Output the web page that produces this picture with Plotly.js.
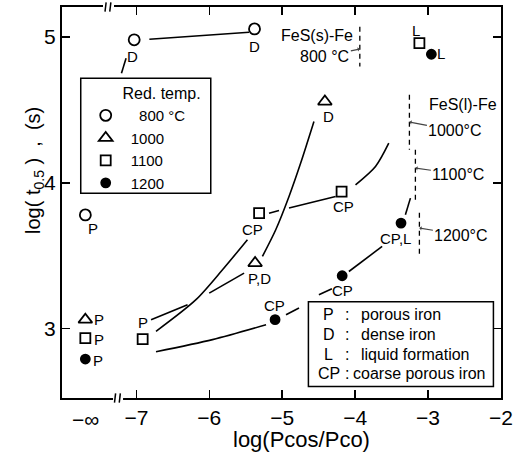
<!DOCTYPE html>
<html><head><meta charset="utf-8">
<script src="https://cdn.plot.ly/plotly-3.0.1.min.js"></script>
<style>html,body{margin:0;padding:0;background:#fff}</style>
</head><body><div id="chart" style="width:525px;height:452px"></div>
<script>
// plotting position used for log(Pcos/Pco) = -infinity on the broken axis
const NEG_INF_X = -7.7;

// ---- measured points (reduction temperature series) ----
const tempNames = ['\u00a0\u00a0800 \u00b0C', '1000', '1100', '1200'];
const x800  = [-Infinity, -7.03, -5.38];
const y800  = [3.78, 4.98, 5.055];
const lab800 = ['P', 'D', 'D'];
const x1000 = [-Infinity, -5.372, -4.415];
const y1000 = [3.062, 3.45, 4.557];
const lab1000 = ['P', 'P,D', 'D'];
const x1100 = [-Infinity, -6.914, -5.317, -4.186, -3.119];
const y1100 = [2.936, 2.929, 3.792, 3.94, 4.957];
const lab1100 = ['P', 'P', 'CP', 'CP', 'L'];
const x1200 = [-Infinity, -5.098, -4.178, -3.371, -2.955];
const y1200 = [2.792, 3.062, 3.363, 3.724, 4.881];
const lab1200 = ['P', 'CP', 'CP', 'CP,L', 'L'];

// ---- hand-drawn trend curves (null = pen lifted) ----
const c800X  = [-6.822, -5.454, null, -7.205, -7.141];
const c800Y  = [4.984, 5.032, null, 4.751, 4.854];
const c1000aX = [-6.799, -6.298, null, -6.001, -5.523];
const c1000aY = [3.062, 3.164, null, 3.244, 3.381];
const c1000bX = [-5.272, -5.089, -4.907, -4.747, -4.565];
const c1000bY = [3.495, 3.678, 3.906, 4.135, 4.42];
const c1100aX = [-6.731, -6.183, -5.819, -5.477];
const c1100aY = [2.982, 3.199, 3.404, 3.61];
const c1100bX = [-5.181, -5.044, null, -4.907, -4.268];
const c1100bY = [3.792, 3.81, null, 3.827, 3.906];
const c1100cX = [-3.995, -3.721, -3.539];
const c1100cY = [3.986, 4.112, 4.272];
const c1200X = [-6.731, -5.956, -5.222, null, -4.948, -4.77, null, -4.497, -4.319, null, -4.086, -3.63, null, -3.311, -3.242];
const c1200Y = [2.842, 2.925, 3.027, null, 3.096, 3.142, null, 3.233, 3.274, null, 3.392, 3.564, null, 3.781, 3.895];

// ---- FeS-Fe equilibrium boundaries ----
const boundTemps = ['800 \u00b0C', '1000\u00b0C', '1100\u00b0C', '1200\u00b0C'];
const boundX  = [-3.936, -3.256, -3.174, -3.119];
const boundY0 = [5.069, 4.603, 4.226, 3.795];
const boundY1 = [4.797, 4.226, 3.884, 3.486];
const boundArrowY = [4.917, 4.417, 4.101, 3.69];

// ---- tick labels ----
const xTicks = [-7, -6, -5, -4, -3, -2];
const yTicks = [3, 4, 5];

// ---- morphology key ----
const keyCodes = ['P', 'D', 'L', 'CP'];
const keyTexts = ['porous iron', 'dense iron', 'liquid formation', 'coarse porous iron'];

const FONT = 'Liberation Sans, Arial, sans-serif';
const px = v => (isFinite(v) ? v : NEG_INF_X);

const traces = [];
function curve(xs, ys) {
  traces.push({x: xs, y: ys, mode: 'lines', showlegend: false, hoverinfo: 'skip',
    connectgaps: false, line: {color: '#000', width: 1.6, shape: 'spline', smoothing: 0.8}});
}
[[c800X, c800Y], [c1000aX, c1000aY], [c1000bX, c1000bY], [c1100aX, c1100aY],
 [c1100bX, c1100bY], [c1100cX, c1100cY], [c1200X, c1200Y]].forEach(c => curve(c[0], c[1]));

// dashed boundaries
const bx = [], by = [];
boundX.forEach((v, i) => { bx.push(v, v, null); by.push(boundY0[i], boundY1[i], null); });
traces.push({x: bx, y: by, mode: 'lines', showlegend: false, hoverinfo: 'skip',
  line: {color: '#000', width: 1.3, dash: '5px,4px'}});

const series = [
  {x: x800, y: y800, lab: lab800, sym: 'circle', size: 11, fill: '#fff'},
  {x: x1000, y: y1000, lab: lab1000, sym: 'triangle-up', size: 12, fill: '#fff'},
  {x: x1100, y: y1100, lab: lab1100, sym: 'square', size: 10, fill: '#fff'},
  {x: x1200, y: y1200, lab: lab1200, sym: 'circle', size: 9, fill: '#000'}
];
// label offsets (pixels) relative to each point
const labelShift = [
  [[8, -14], [-2, -17], [0, -18]],
  [[14, 0], [4, -15], [4, -15]],
  [[14, -1], [0, 17], [-7, -16], [2, -15], [-3, 13]],
  [[13, -1], [-1, 14], [0, -15], [-6, -15], [10, 1]]
];
series.forEach((s, i) => {
  const nm = i === 0 ? tempNames[i] + '\u00a0\u00a0\u00a0' : tempNames[i];
  traces.push({x: s.x.map(px), y: s.y, mode: 'markers', name: nm, hoverinfo: 'skip',
    marker: {symbol: s.sym, size: s.size, color: s.fill, line: {color: '#000', width: 1.8}}});
});

const ann = [];
series.forEach((s, i) => {
  s.lab.forEach((t, j) => {
    ann.push({x: px(s.x[j]), y: s.y[j], text: t, showarrow: false,
      xshift: labelShift[i][j][0], yshift: labelShift[i][j][1],
      font: {family: FONT, size: 15, color: '#000'}});
  });
});

// boundary labels
ann.push({x: -4.001, y: 5.010, text: 'FeS(s)-Fe', xanchor: 'right', showarrow: false, font: {family: FONT, size: 16}});
ann.push({x: -2.526, y: 4.540, text: 'FeS(l)-Fe', showarrow: false, font: {family: FONT, size: 16}});
const arrowOff = [[-35, 7], [46, 9], [43, 6], [42, 7]];
boundTemps.forEach((t, i) => {
  ann.push({x: boundX[i], y: boundArrowY[i], text: t, showarrow: true, arrowhead: 1, arrowsize: 0.6,
    arrowwidth: 1.2, standoff: 0, ax: arrowOff[i][0], ay: arrowOff[i][1],
    font: {family: FONT, size: 16}});
});

// morphology key
const keyY = [3.094, 2.957, 2.825, 2.694];
keyCodes.forEach((k, i) => {
  ann.push({x: -4.364, y: keyY[i], text: k, showarrow: false, font: {family: FONT, size: 16}});
  ann.push({x: -4.115, y: keyY[i], text: ':', showarrow: false, font: {family: FONT, size: 16}});
  ann.push({x: i === 3 ? -4.056 : -3.946, y: keyY[i], text: keyTexts[i], xanchor: 'left',
    showarrow: false, font: {family: FONT, size: 16}});
});

// axis texts
ann.push({xref: 'x', yref: 'paper', x: NEG_INF_X, y: 0, yanchor: 'top', yshift: -8,
  text: '\u2212\u221e', showarrow: false, font: {family: FONT, size: 21}});
ann.push({xref: 'paper', yref: 'paper', x: 0.5456, y: -0.105, xanchor: 'center', yanchor: 'middle',
  text: 'log(Pcos/Pco)', showarrow: false, font: {family: FONT, size: 22}});
ann.push({xref: 'paper', yref: 'paper', x: -0.0615, y: 0.5806, xanchor: 'center', yanchor: 'middle',
  textangle: -90, text: 'log( t<sub>0.5</sub> )  ,  (s)', showarrow: false, font: {family: FONT, size: 20}});

const shapes = [
  // temperature key frame
  {type: 'rect', xref: 'x', yref: 'y', x0: -7.763, x1: -5.98, y0: 3.928, y1: 4.716,
    line: {color: '#000', width: 1.5}, fillcolor: '#fff', layer: 'above'},
  // morphology key frame
  {type: 'rect', xref: 'x', yref: 'y', x0: -4.641, x1: -2.104, y0: 2.603, y1: 3.185,
    line: {color: '#000', width: 1.5}, fillcolor: '#fff', layer: 'above'},
  // axis break marks
  {type: 'rect', xref: 'x', yref: 'paper', x0: -7.32, x1: -7.183, y0: -0.012, y1: 0.012,
    line: {width: 0}, fillcolor: '#fff', layer: 'above'},
  {type: 'line', xref: 'x', yref: 'paper', x0: -7.30, x1: -7.285, y0: -0.012, y1: 0.012, line: {color: '#000', width: 1.5}, layer: 'above'},
  {type: 'line', xref: 'x', yref: 'paper', x0: -7.235, x1: -7.22, y0: -0.012, y1: 0.012, line: {color: '#000', width: 1.5}, layer: 'above'},
  {type: 'rect', xref: 'x', yref: 'paper', x0: -7.458, x1: -7.307, y0: 0.988, y1: 1.012,
    line: {width: 0}, fillcolor: '#fff', layer: 'above'},
  {type: 'line', xref: 'x', yref: 'paper', x0: -7.43, x1: -7.415, y0: 0.988, y1: 1.012, line: {color: '#000', width: 1.5}, layer: 'above'},
  {type: 'line', xref: 'x', yref: 'paper', x0: -7.365, x1: -7.35, y0: 0.988, y1: 1.012, line: {color: '#000', width: 1.5}, layer: 'above'}
];

const axisCommon = {ticks: 'inside', ticklen: 8, tickwidth: 1.5, tickcolor: '#000',
  showline: true, linewidth: 2, linecolor: '#000', mirror: 'ticks', showgrid: false, zeroline: false,
  tickfont: {family: FONT, size: 21, color: '#000'}};

const layout = {
  width: 525, height: 452,
  margin: {l: 62, r: 24, t: 7, b: 54},
  paper_bgcolor: '#fff', plot_bgcolor: '#fff',
  font: {family: FONT, color: '#000'},
  xaxis: Object.assign({}, axisCommon, {range: [-8.02, -2.0], tickmode: 'array', tickvals: xTicks}),
  yaxis: Object.assign({}, axisCommon, {range: [2.525, 5.205], tickmode: 'array', tickvals: yTicks}),
  legend: {x: 0.0426, y: 0.8176, xanchor: 'left', yanchor: 'top', bgcolor: 'rgba(0,0,0,0)',
    borderwidth: 0, font: {family: FONT, size: 15, color: '#000'}, itemwidth: 40,
    title: {text: 'Red. temp.', side: 'top right', font: {family: FONT, size: 16}},
    tracegroupgap: 0},
  annotations: ann,
  shapes: shapes,
  showlegend: true
};

Plotly.newPlot('chart', traces, layout, {staticPlot: true, displayModeBar: false});
</script>
</body></html>
